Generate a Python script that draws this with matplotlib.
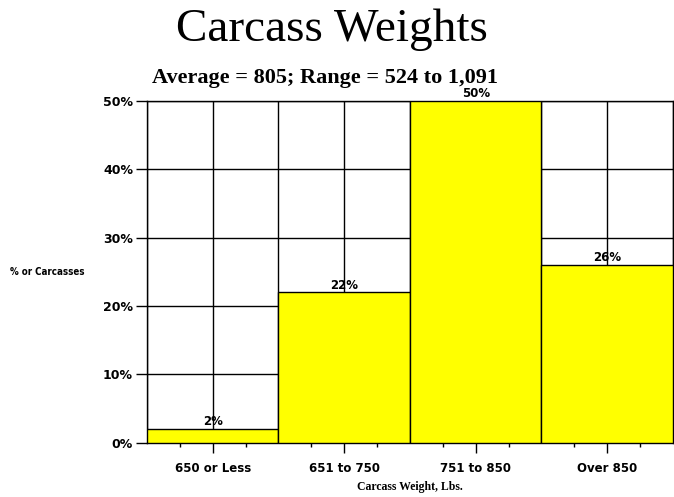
import matplotlib.pyplot as plt
import numpy as np
from matplotlib.ticker import MultipleLocator, FixedLocator

categories = ['650 or Less', '651 to 750', '751 to 850', 'Over 850']
percentages = [2, 22, 50, 26]
title = 'Carcass Weights'
subtitle = 'Average = 805; Range = 524 to 1,091'

fig = plt.figure(figsize=(6.74, 4.97), dpi=100)
ax = fig.add_axes([0.218, 0.109, 0.7805, 0.688])

x = np.arange(len(categories))
ax.set_axisbelow(True)
bars = ax.bar(x, percentages, width=1.0, color='#ffff00', edgecolor='black', linewidth=1, zorder=3)

for bar, v in zip(bars, percentages):
    ax.text(bar.get_x() + bar.get_width() / 2, v + 0.1, f'{v}%',
            ha='center', va='bottom', fontsize=8.5, fontweight='bold',
            family='DejaVu Sans', zorder=4)

ax.set_xlim(-0.5, len(categories) - 0.5)
ax.set_ylim(0, 50)
ax.set_xticks(x)
ax.set_xticklabels(categories, fontsize=8.5, fontweight='bold')
ax.xaxis.set_minor_locator(FixedLocator(np.arange(-0.25, len(categories), 0.5)))
ax.yaxis.set_major_locator(MultipleLocator(10))
ax.set_yticklabels([f'{int(t)}%' for t in ax.get_yticks()], fontsize=9, fontweight='bold')

# grid at centres and bar edges
for gx in np.arange(-0.5, len(categories), 0.5):
    ax.axvline(gx, color='black', linewidth=1, zorder=1)
ax.yaxis.grid(True, color='black', linewidth=1, zorder=1)

ax.tick_params(axis='x', which='major', length=7, width=1, direction='out', pad=7)
ax.tick_params(axis='x', which='minor', length=3, width=1, direction='out')
ax.tick_params(axis='y', length=8, width=1, direction='out', pad=2)

for s in ax.spines.values():
    s.set_linewidth(1)

fig.text(0.493, 0.94, title, ha='center', va='center', fontsize=34, family='Liberation Serif')
fig.text(0.225, 0.843, subtitle, ha='left', va='center', fontsize=16, fontweight='bold',
         family='Liberation Serif')
fig.text(0.015, 0.453, '% or Carcasses', ha='left', va='center', fontsize=7, fontweight='bold',
         fontstretch='condensed')
ax.set_xlabel('Carcass Weight, Lbs.', fontsize=8.5, fontweight='bold', family='Liberation Serif', labelpad=4)

plt.savefig('out.png', dpi=100)
